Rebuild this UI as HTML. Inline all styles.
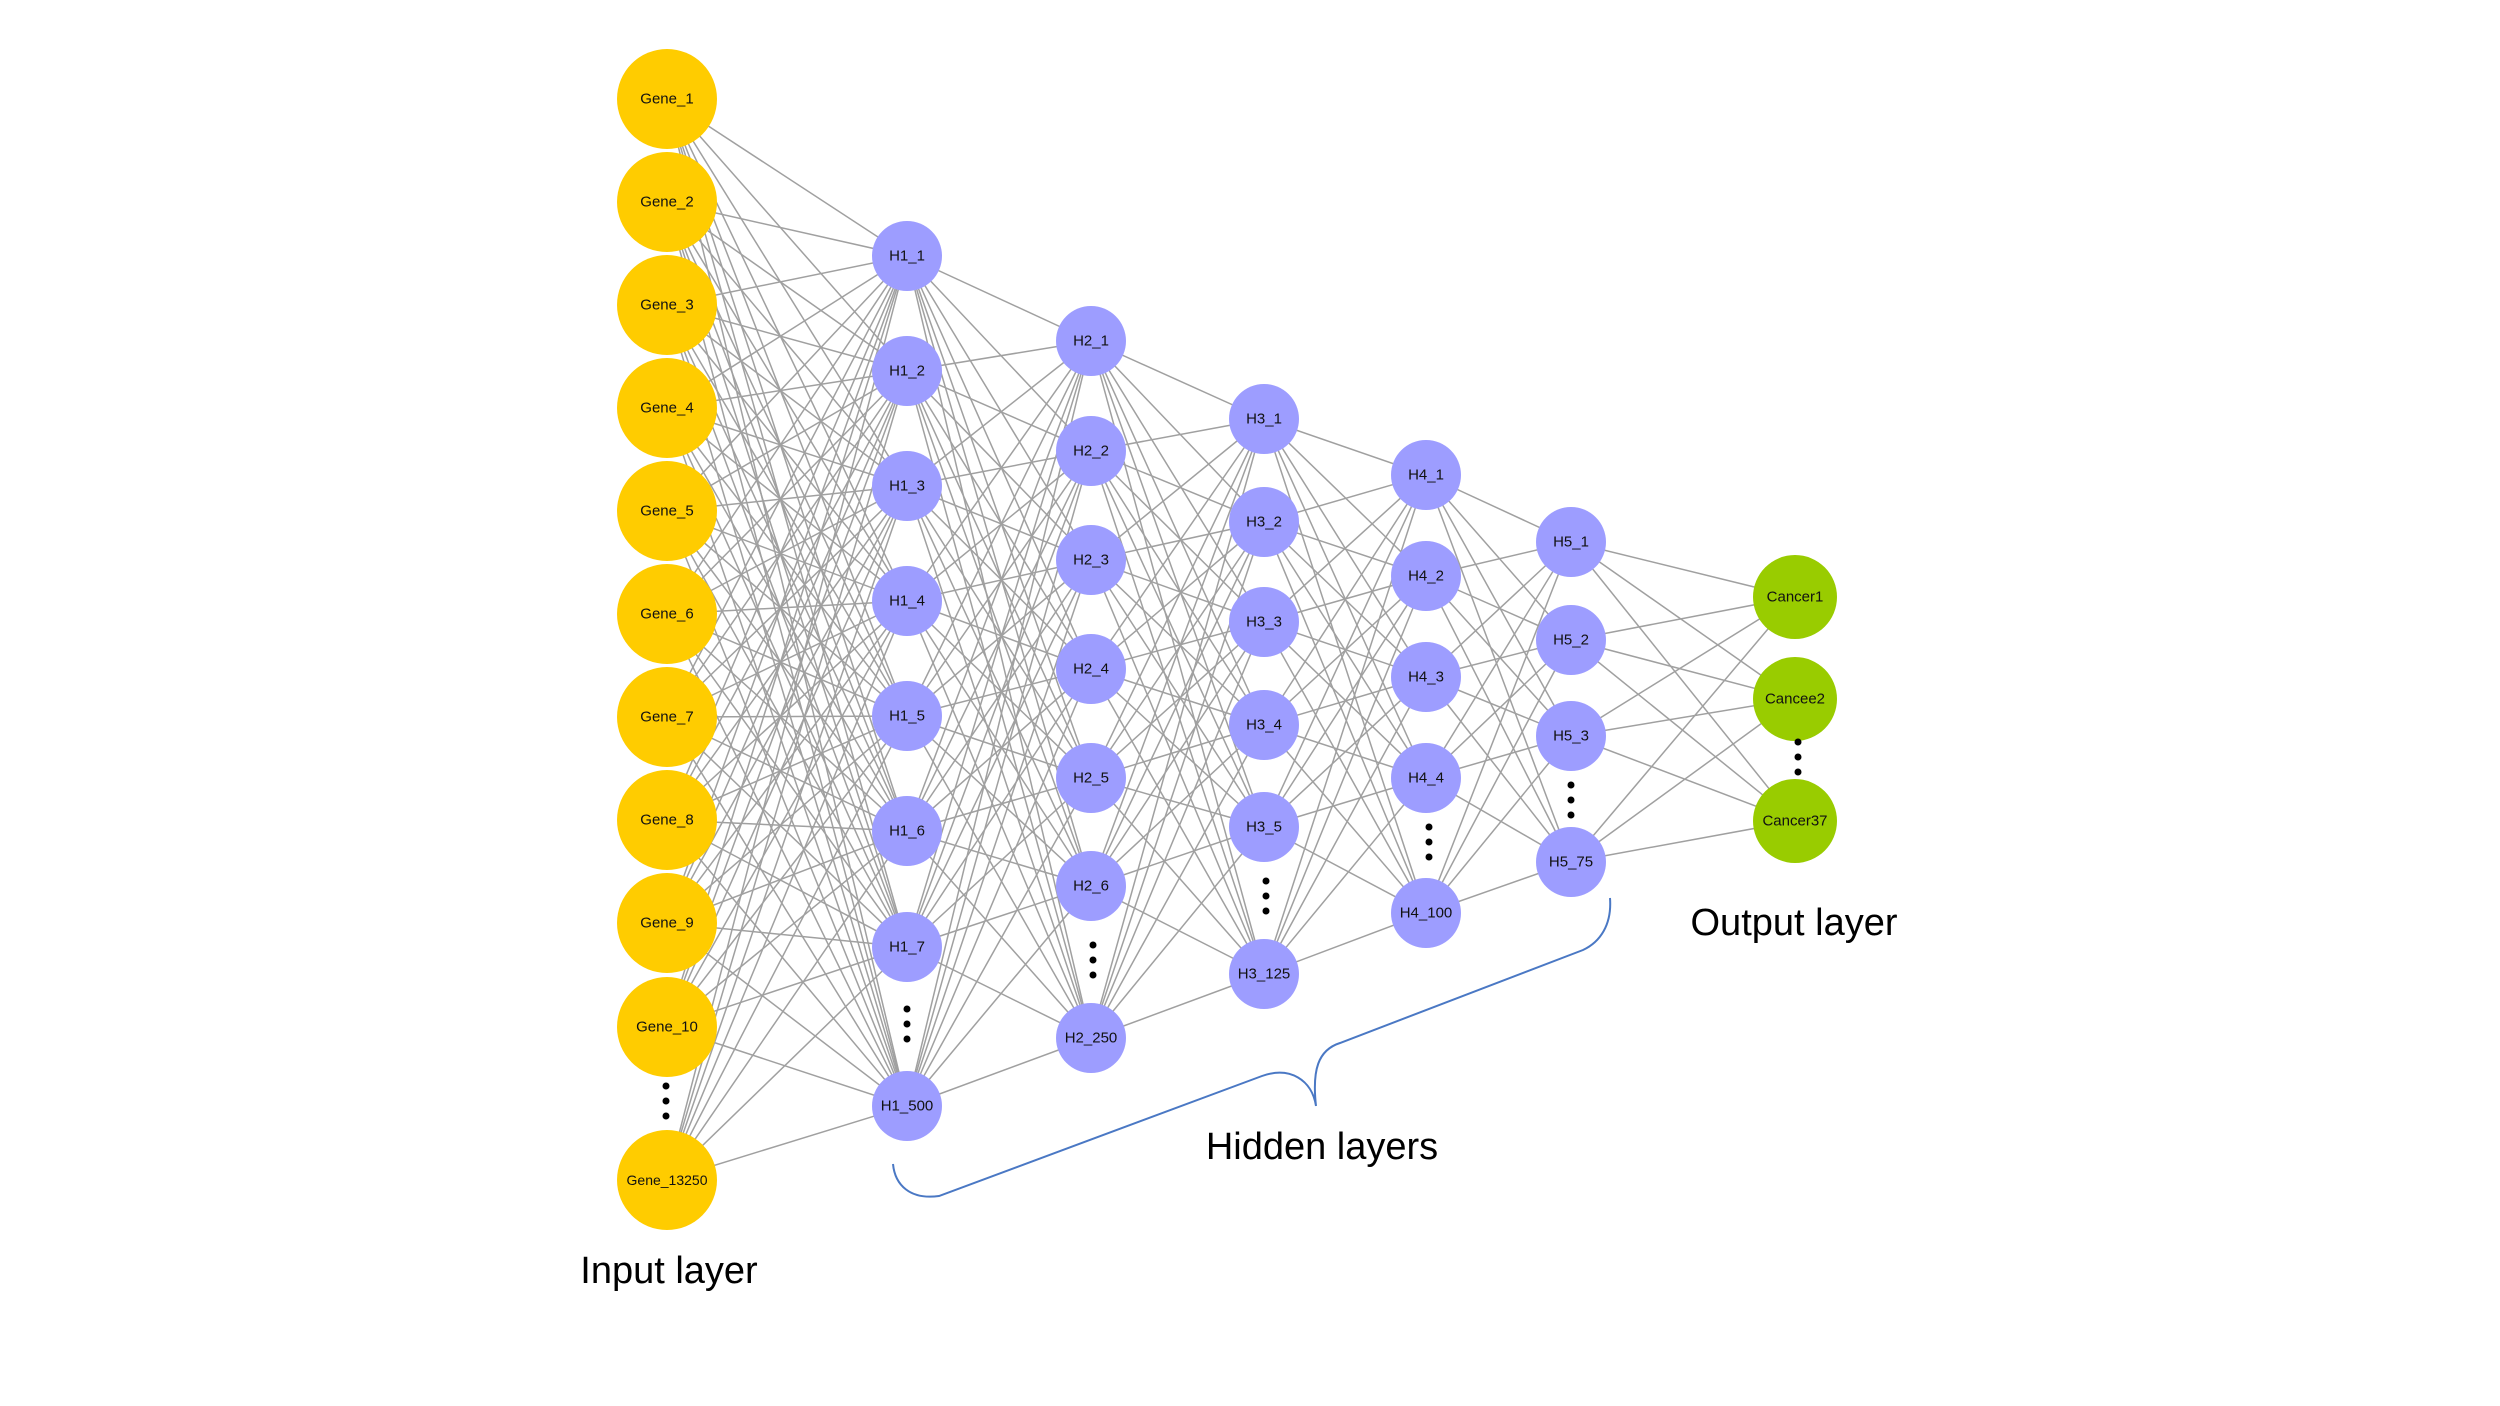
<!DOCTYPE html>
<html><head><meta charset="utf-8"><style>
html,body{margin:0;padding:0;background:#fff;}
svg{display:block}
.n{font-family:"Liberation Sans",sans-serif;font-size:15px;fill:#111;text-anchor:middle;dominant-baseline:central}
.L{font-family:"Liberation Sans",sans-serif;font-size:38px;fill:#000;text-anchor:middle}
</style></head><body>
<svg id="s" width="2500" height="1406" viewBox="0 0 2500 1406" xmlns="http://www.w3.org/2000/svg">
<g id="lines" stroke="#a0a0a0" stroke-width="1.5"></g>
<g id="nodes"></g>
<g id="labels">
<text class="n" x="667" y="99">Gene_1</text>
<text class="n" x="667" y="202">Gene_2</text>
<text class="n" x="667" y="305">Gene_3</text>
<text class="n" x="667" y="408">Gene_4</text>
<text class="n" x="667" y="511">Gene_5</text>
<text class="n" x="667" y="614">Gene_6</text>
<text class="n" x="667" y="717">Gene_7</text>
<text class="n" x="667" y="820">Gene_8</text>
<text class="n" x="667" y="923">Gene_9</text>
<text class="n" x="667" y="1027">Gene_10</text>
<text class="n" x="667" y="1180" style="font-size:14px">Gene_13250</text>
<text class="n" x="907" y="256">H1_1</text>
<text class="n" x="907" y="371">H1_2</text>
<text class="n" x="907" y="486">H1_3</text>
<text class="n" x="907" y="601">H1_4</text>
<text class="n" x="907" y="716">H1_5</text>
<text class="n" x="907" y="831">H1_6</text>
<text class="n" x="907" y="947">H1_7</text>
<text class="n" x="907" y="1106">H1_500</text>
<text class="n" x="1091" y="341">H2_1</text>
<text class="n" x="1091" y="451">H2_2</text>
<text class="n" x="1091" y="560">H2_3</text>
<text class="n" x="1091" y="669">H2_4</text>
<text class="n" x="1091" y="778">H2_5</text>
<text class="n" x="1091" y="886">H2_6</text>
<text class="n" x="1091" y="1038">H2_250</text>
<text class="n" x="1264" y="419">H3_1</text>
<text class="n" x="1264" y="522">H3_2</text>
<text class="n" x="1264" y="622">H3_3</text>
<text class="n" x="1264" y="725">H3_4</text>
<text class="n" x="1264" y="827">H3_5</text>
<text class="n" x="1264" y="974">H3_125</text>
<text class="n" x="1426" y="475">H4_1</text>
<text class="n" x="1426" y="576">H4_2</text>
<text class="n" x="1426" y="677">H4_3</text>
<text class="n" x="1426" y="778">H4_4</text>
<text class="n" x="1426" y="913">H4_100</text>
<text class="n" x="1571" y="542">H5_1</text>
<text class="n" x="1571" y="640">H5_2</text>
<text class="n" x="1571" y="736">H5_3</text>
<text class="n" x="1571" y="862">H5_75</text>
<text class="n" x="1795" y="597">Cancer1</text>
<text class="n" x="1795" y="699">Cancee2</text>
<text class="n" x="1795" y="821">Cancer37</text>
<text class="L" x="669" y="1283">Input layer</text>
<text class="L" x="1322" y="1159">Hidden layers</text>
<text class="L" x="1794" y="935">Output layer</text>
</g>
<path d="M893,1164 C895,1185 910,1200 939,1196 L1262,1076 C1290,1066 1312,1080 1316,1106 C1312,1070 1318,1050 1340,1043 L1583,950 C1600,942 1612,925 1610,898" fill="none" stroke="#4a78c4" stroke-width="2"/>
<g id="dots" fill="#000"></g>
</svg>
<script>
var layers=[
 {x:667,r:50,c:"#ffcc00",y:[99,202,305,408,511,614,717,820,923,1027,1180]},
 {x:907,r:35,c:"#9d9dff",y:[256,371,486,601,716,831,947,1106]},
 {x:1091,r:35,c:"#9d9dff",y:[341,451,560,669,778,886,1038]},
 {x:1264,r:35,c:"#9d9dff",y:[419,522,622,725,827,974]},
 {x:1426,r:35,c:"#9d9dff",y:[475,576,677,778,913]},
 {x:1571,r:35,c:"#9d9dff",y:[542,640,736,862]},
 {x:1795,r:42,c:"#99cc00",y:[597,699,821]}
];
var NS="http://www.w3.org/2000/svg";
var lg=document.getElementById("lines"),ng=document.getElementById("nodes"),dg=document.getElementById("dots");
for(var i=0;i<layers.length-1;i++){var a=layers[i],b=layers[i+1];
 a.y.forEach(function(y1){b.y.forEach(function(y2){var l=document.createElementNS(NS,"line");
 l.setAttribute("x1",a.x);l.setAttribute("y1",y1);l.setAttribute("x2",b.x);l.setAttribute("y2",y2);lg.appendChild(l);});});}
layers.forEach(function(L){L.y.forEach(function(y){var c=document.createElementNS(NS,"circle");
 c.setAttribute("cx",L.x);c.setAttribute("cy",y);c.setAttribute("r",L.r);c.setAttribute("fill",L.c);ng.appendChild(c);});});
[[666,1101],[907,1024],[1093,960],[1266,896],[1429,842],[1571,800],[1798,757]].forEach(function(p){
 for(var k=-1;k<=1;k++){var c=document.createElementNS(NS,"circle");c.setAttribute("cx",p[0]);c.setAttribute("cy",p[1]+k*15);c.setAttribute("r",3.5);dg.appendChild(c);}});
</script>
</body></html>
